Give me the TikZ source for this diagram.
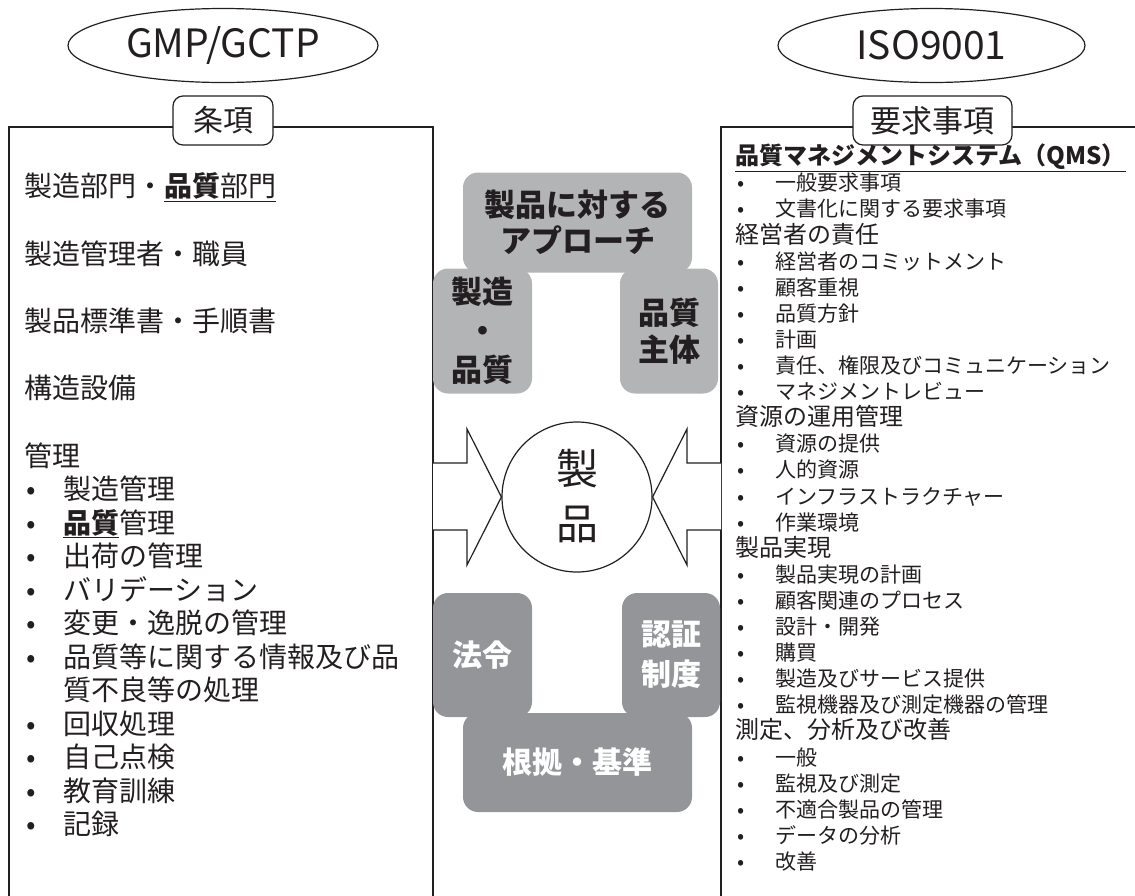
\documentclass[tikz,border=0pt]{standalone}
\usepackage{fontspec}
\setmainfont{Noto Sans CJK JP}
\usetikzlibrary{shapes.geometric}
\definecolor{ink}{HTML}{231F20}
\definecolor{lightg}{HTML}{B3B4B6}
\definecolor{darkg}{HTML}{939598}
\newcommand\myfs[2]{\fontsize{#1}{#2}\selectfont}
\tikzset{
  frame/.style={draw=ink, line width=1.4pt},
  oval/.style={ellipse, draw=ink, line width=1.2pt, inner sep=0pt, text=ink, font=\myfs{39}{39}},
  tab/.style={draw=ink, fill=white, line width=1.2pt, rounded corners=10pt, inner sep=0pt, text=ink},
  ltxt/.style={anchor=west, inner sep=0pt, text=ink, font=\myfs{28}{28}, text height=0.88em, text depth=0.12em},
  rhead/.style={anchor=west, inner sep=0pt, text=ink, font=\myfs{24}{24}, text height=0.88em, text depth=0.12em},
  ritem/.style={anchor=west, inner sep=0pt, text=ink, font=\myfs{21}{21}, text height=0.88em, text depth=0.12em},
  lbox/.style={fill=lightg, rounded corners=15pt, inner sep=0pt, align=center, text=ink},
  dbox/.style={fill=darkg, rounded corners=15pt, inner sep=0pt, align=center, text=white},
  arr/.style={draw=ink, line width=1.2pt, fill=white, line join=miter},
}
\begin{document}
\begin{tikzpicture}[x=1pt,y=-1pt]
\useasboundingbox (0,0) rectangle (1135,895);
% ellipses
\node[oval, minimum width=310pt, minimum height=74pt] (gmp) at (223,45.5) {GMP/GCTP};
\node[oval, minimum width=307pt, minimum height=74pt] (iso) at (931.5,45.5) {ISO9001};
% frames
\draw[frame] (9,900) -- (9,127) -- (433,127) -- (433,900);
\draw[frame] (721,900) -- (721,127) -- (1140,127);
\node[tab, minimum width=100pt, minimum height=49pt, font=\myfs{30}{30}] (jk) at (223,120.5) {条項};
\node[tab, minimum width=159pt, minimum height=49pt, font=\myfs{31}{31}] (yk) at (932.5,120.5) {要求事項};
% left text
\node[ltxt] (l1) at (24,193) {製造部門・\underline{\textbf{品質}部門}};
\node[ltxt] (l2) at (24,261) {製造管理者・職員};
\node[ltxt] (l3) at (24,328) {製品標準書・手順書};
\node[ltxt] (l4) at (24,395) {構造設備};
\node[ltxt] (l5) at (24,463) {管理};
\foreach \t [count=\i from 0] in {製造管理,\underline{\textbf{品質}}管理,出荷の管理,バリデーション,変更・逸脱の管理,品質等に関する情報及び品}{
  \node[ltxt] (lb\i) at (26,{496+33.5*\i}) {•};
  \node[ltxt] (lt\i) at (63,{496+33.5*\i}) {\t};
}
\node[ltxt] (lt6b) at (63,697) {質不良等の処理};
\foreach \t [count=\i from 0] in {回収処理,自己点検,教育訓練,記録}{
  \node[ltxt] (lc\i) at (26,{730.5+33.5*\i}) {•};
  \node[ltxt] (ld\i) at (63,{730.5+33.5*\i}) {\t};
}
% right text
\node[rhead, font=\myfs{24}{24}\bfseries] (qms) at (735,161) {\underline{品質マネジメントシステム（QMS）}};
\foreach \k/\h/\t in {
 0/0/一般要求事項, 1/0/文書化に関する要求事項, 2/1/経営者の責任,
 3/0/経営者のコミットメント, 4/0/顧客重視, 5/0/品質方針, 6/0/計画,
 7/0/責任、権限及びコミュニケーション, 8/0/マネジメントレビュー, 9/1/資源の運用管理,
 10/0/資源の提供, 11/0/人的資源, 12/0/インフラストラクチャー, 13/0/作業環境,
 14/1/製品実現, 15/0/製品実現の計画, 16/0/顧客関連のプロセス, 17/0/設計・開発,
 18/0/購買, 19/0/製造及びサービス提供, 20/0/監視機器及び測定機器の管理,
 21/1/測定、分析及び改善, 22/0/一般, 23/0/監視及び測定, 24/0/不適合製品の管理,
 25/0/データの分析, 26/0/改善}{
  \ifnum\h=1
    \node[rhead] (r\k) at (735,{187+26.1*\k}) {\t};
  \else
    \node[ritem] (rb\k) at (737,{187+26.1*\k}) {•};
    \node[ritem] (r\k) at (775,{187+26.1*\k}) {\t};
  \fi
}
% center gray boxes
\node[lbox, minimum width=229pt, minimum height=100pt, font=\myfs{31}{36}\bfseries] (appr) at (577.5,222.5) {製品に対する\\アプローチ};
\node[lbox, minimum width=99pt, minimum height=125pt, font=\myfs{31}{39}\bfseries] (mq) at (482.5,331) {製造\\・\\品質};
\node[lbox, minimum width=98pt, minimum height=125pt, font=\myfs{31}{37}\bfseries] (qs) at (669,331) {品質\\主体};
\node[dbox, minimum width=99pt, minimum height=124pt, font=\myfs{30}{30}\bfseries] (hr) at (482.5,655) {法令};
\node[dbox, minimum width=98pt, minimum height=124pt, font=\myfs{30}{40}\bfseries] (nsh) at (671,655) {認証\\制度};
\node[dbox, minimum width=229pt, minimum height=99pt, font=\myfs{30}{30}\bfseries] (kk) at (577.5,762.5) {根拠・基準};
% circle and arrows
\node[circle, draw=ink, line width=1.2pt, minimum size=150pt, inner sep=0pt] (c) at (577,497) {};
\node[align=center, text=ink, font=\myfs{42}{55}, inner sep=0pt] (ct) at (577,496) {製\\品};
\coordinate (la) at (433,463);
\coordinate (ra) at (721,463);
\draw[arr] (la) -- (467,463) -- (467,429) -- (c.west) -- (467,565) -- (467,530) -- (433,530);
\draw[arr] (ra) -- (687,463) -- (687,429) -- (c.east) -- (687,565) -- (687,530) -- (721,530);
\end{tikzpicture}
\end{document}
